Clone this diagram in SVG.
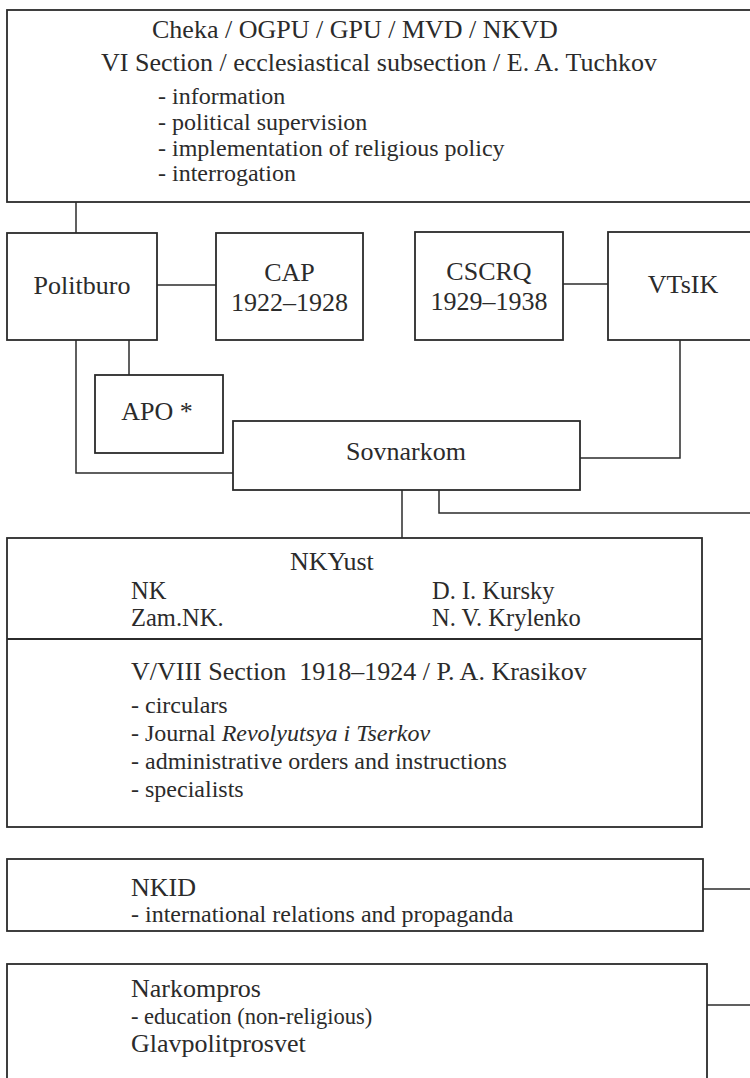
<svg xmlns="http://www.w3.org/2000/svg" width="750" height="1078" viewBox="0 0 750 1078">
<style>
  .box { fill: #ffffff; stroke: #2b2b2b; stroke-width: 1.8; }
  .conn { fill: none; stroke: #2b2b2b; stroke-width: 1.5; }
  text { font-family: "Liberation Serif", "Times New Roman", serif; fill: #2b2b2b; }
  .t { font-size: 26px; }
  .n { font-size: 24.5px; }
  .s { font-size: 24px; }
  .e { font-size: 22.5px; }
  .m { text-anchor: middle; }
</style>
<rect x="0" y="0" width="750" height="1078" fill="#ffffff"/>
<g id="connectors">
  <line class="conn" x1="76" y1="202" x2="76" y2="233"/>
  <line class="conn" x1="157" y1="285" x2="216" y2="285"/>
  <line class="conn" x1="563" y1="284" x2="608" y2="284"/>
  <polyline class="conn" points="76,340 76,473 233,473"/>
  <line class="conn" x1="129" y1="340" x2="129" y2="375"/>
  <polyline class="conn" points="680,340 680,458 580,458"/>
  <line class="conn" x1="402" y1="490" x2="402" y2="538"/>
  <polyline class="conn" points="439,490 439,513 752,513"/>
  <line class="conn" x1="703" y1="889" x2="752" y2="889"/>
  <line class="conn" x1="707" y1="1005" x2="752" y2="1005"/>
</g>
<g id="cheka">
  <rect class="box" x="7" y="10" width="760" height="192"/>
  <text class="t" x="152" y="38">Cheka / OGPU / GPU / MVD / NKVD</text>
  <text class="t" x="101" y="71">VI Section / ecclesiastical subsection / E. A. Tuchkov</text>
  <text class="s" x="158" y="104">- information</text>
  <text class="s" x="158" y="130">- political supervision</text>
  <text class="s" x="158" y="156">- implementation of religious policy</text>
  <text class="s" x="158" y="181">- interrogation</text>
</g>
<g id="politburo">
  <rect class="box" x="7" y="233" width="150" height="107"/>
  <text class="t m" x="82" y="294">Politburo</text>
</g>
<g id="cap">
  <rect class="box" x="216" y="233" width="147" height="107"/>
  <text class="t m" x="289.5" y="281">CAP</text>
  <text class="t m" x="289.5" y="311">1922–1928</text>
</g>
<g id="cscrq">
  <rect class="box" x="415" y="232" width="148" height="108"/>
  <text class="t m" x="489" y="280">CSCRQ</text>
  <text class="t m" x="489" y="310">1929–1938</text>
</g>
<g id="vtsik">
  <rect class="box" x="608" y="232" width="160" height="108"/>
  <text class="t m" x="683" y="293">VTsIK</text>
</g>
<g id="apo">
  <rect class="box" x="95" y="375" width="128" height="78"/>
  <text class="t m" x="157" y="420">APO *</text>
</g>
<g id="sovnarkom">
  <rect class="box" x="233" y="421" width="347" height="69"/>
  <text class="t m" x="406" y="460">Sovnarkom</text>
</g>
<g id="nkyust">
  <rect class="box" x="7" y="538" width="695" height="289"/>
  <line class="conn" x1="7" y1="639" x2="702" y2="639" style="stroke-width:1.8"/>
  <text class="t" x="290" y="570">NKYust</text>
  <text class="n" x="131" y="599">NK</text>
  <text class="n" x="432" y="599">D. I. Kursky</text>
  <text class="n" x="131" y="626">Zam.NK.</text>
  <text class="n" x="432" y="626">N. V. Krylenko</text>
  <text class="t" x="131" y="680" xml:space="preserve">V/VIII Section  1918–1924 / P. A. Krasikov</text>
  <text class="s" x="131" y="713">- circulars</text>
  <text class="s" x="131" y="741">- Journal <tspan font-style="italic">Revolyutsya i Tserkov</tspan></text>
  <text class="s" x="131" y="769">- administrative orders and instructions</text>
  <text class="s" x="131" y="797">- specialists</text>
</g>
<g id="nkid">
  <rect class="box" x="7" y="859" width="696" height="72"/>
  <text class="t" x="131" y="896">NKID</text>
  <text class="s" x="131" y="922">- international relations and propaganda</text>
</g>
<g id="narkompros">
  <rect class="box" x="7" y="964" width="700" height="120"/>
  <text class="t" x="131" y="997">Narkompros</text>
  <text class="e" x="131" y="1024">- education (non-religious)</text>
  <text class="t" x="131" y="1052">Glavpolitprosvet</text>
</g>
</svg>
